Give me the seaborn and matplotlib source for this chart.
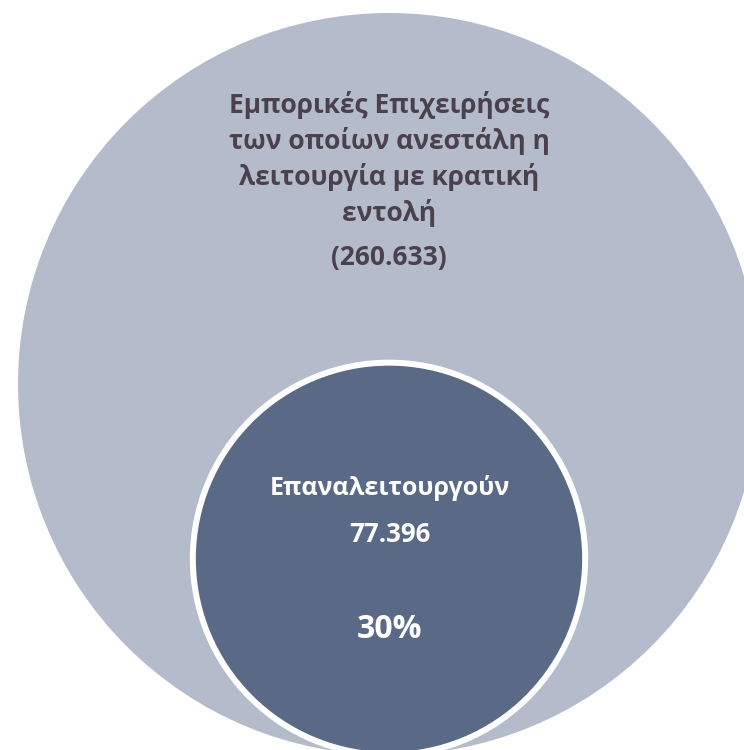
import matplotlib
matplotlib.use("Agg")
import matplotlib.pyplot as plt
import seaborn as sns
import numpy as np
from matplotlib.patches import Circle

# Data
category_lines = ["Εμπορικές Επιχειρήσεις", "των οποίων ανεστάλη η",
                  "λειτουργία με κρατική", "εντολή"]
sub_category = "Επαναλειτουργούν"
values = [260633, 77396]

def fmt(v):
    return f"{v:,}".replace(",", ".")

share = round(100 * values[1] / values[0])

# Style
sns.set_theme(style="white")
plt.rcParams['font.family'] = ['Open Sans', 'DejaVu Sans']
colors = ["#b4bccb", "#5a6a86"]
text_dark = "#4a414c"

W, H = 744, 750
CX = 389          # common centre of both bubbles
BOTTOM = 755      # bubbles sit on one baseline
R_MAX = 371
RING = 6          # white outline of the inner bubble

radii = R_MAX * np.sqrt(np.array(values) / max(values))

fig = plt.figure(figsize=(W / 100, H / 100), dpi=100)
ax = fig.add_axes([0, 0, 1, 1])
ax.set_xlim(0, W)
ax.set_ylim(H, 0)
ax.set_aspect('equal')
ax.axis('off')

# Outer bubble
ax.add_patch(Circle((CX, BOTTOM - radii[0]), radii[0], facecolor=colors[0],
                    edgecolor='none'))

# Inner bubble with white ring
r_in = radii[1] - RING
ax.add_patch(Circle((CX, BOTTOM - r_in), r_in, facecolor=colors[1],
                    edgecolor='white', linewidth=RING * 72 / 100))

# Outer bubble labels
for i, line in enumerate(category_lines):
    ax.text(CX, 113 + 36 * i, line, ha='center', va='baseline',
            fontsize=19, fontweight='bold', color=text_dark)
ax.text(CX, 265, f"({fmt(values[0])})", ha='center', va='baseline',
        fontsize=19, fontweight='bold', color=text_dark)

# Inner bubble labels
ax.text(CX + 1, 495, sub_category, ha='center', va='baseline',
        fontsize=18, fontweight='bold', color='white')
ax.text(CX + 1, 542, fmt(values[1]), ha='center', va='baseline',
        fontsize=18.5, fontweight='bold', color='white')
ax.text(CX + 1, 638, f"{share}%", ha='center', va='baseline',
        fontsize=23, fontweight='bold', color='white')

fig.savefig("out.png", dpi=100)
